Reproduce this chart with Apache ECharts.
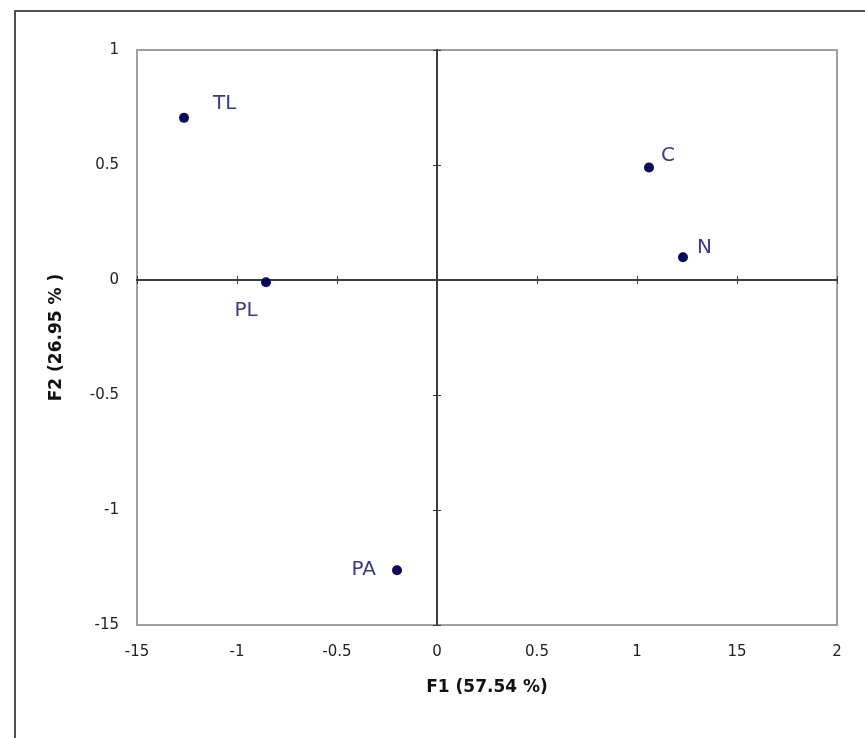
<!DOCTYPE html>
<html lang="en">
<head>
  <meta http-equiv="Content-Type" content="text/html; charset=UTF-8">
  <title>ECharts</title>
  <script type="text/javascript" src="https://cdn.jsdelivr.net/npm/echarts@6/dist/echarts.min.js"></script>
  <style>
    html, body { margin: 0; padding: 0; background: #fff; }
  </style>
</head>
<body>
<div id="main" style="width: 865px;height:738px;"></div>
<script type="text/javascript">
  // points (F1, F2)
  const names = ['TL', 'PL', 'PA', 'C', 'N'];
  const f1 = [-1.265, -0.855, -0.2, 1.06, 1.23];
  const f2 = [0.705, -0.01, -1.262, 0.489, 0.099];
  // label placement for each point
  const labelPos = ['right', 'bottom', 'left', 'right', 'right'];
  // tick labels as printed on the picture
  const xTicks = {'-1.5': '-15', '-1': '-1', '-0.5': '-0.5', '0': '0', '0.5': '0.5', '1': '1', '1.5': '15', '2': '2'};
  const yTicks = {'-1.5': '-15', '-1': '-1', '-0.5': '-0.5', '0': '0', '0.5': '0.5', '1': '1'};

  var myChart = echarts.init(document.getElementById('main'));

  // little nudges so labels sit where they do in the original
  const labelDist = {TL: 24, PL: 13, PA: 16, C: 7, N: 9};
  const labelOff = {TL: [0, -14], PL: [-20, 0], PA: [0, 0], C: [0, -12], N: [0, -9]};

  const data = names.map(function (n, i) {
    return {
      value: [f1[i], f2[i]],
      name: n,
      label: {position: labelPos[i], distance: labelDist[n], offset: labelOff[n]}
    };
  });

  const lineCol = '#3c3c3c';
  const tickFont = {color: '#222', fontFamily: 'DejaVu Sans', fontSize: 15};
  const nameFont = {color: '#111', fontFamily: 'DejaVu Sans', fontSize: 17, fontWeight: 'bold'};

  function zeroAxis(min, max, inside) {
    return {
      type: 'value', min: min, max: max, interval: 0.5,
      axisLine: {show: true, onZero: true, onZeroAxisIndex: 0, lineStyle: {color: lineCol, width: 2}},
      axisTick: {show: true, inside: inside, length: 4, lineStyle: {color: lineCol}},
      axisLabel: {show: false},
      splitLine: {show: false}
    };
  }

  myChart.setOption({
    animation: false,
    graphic: [{
      type: 'rect',
      shape: {x: 15, y: 11, width: 900, height: 800},
      style: {fill: 'none', stroke: '#505050', lineWidth: 2},
      silent: true
    }],
    grid: {
      left: 137, right: 28, top: 50, bottom: 113,
      show: true, borderColor: '#a0a0a0', borderWidth: 2
    },
    xAxis: [{
      type: 'value', min: -1.5, max: 2, interval: 0.5,
      position: 'bottom',
      axisLine: {show: false, onZero: false},
      axisTick: {show: false},
      splitLine: {show: false},
      axisLabel: Object.assign({margin: 20, formatter: function (v) { return xTicks[String(v)]; }}, tickFont),
      name: 'F1 (57.54 %)',
      nameLocation: 'middle', nameGap: 54,
      nameTextStyle: nameFont
    }, zeroAxis(-1.5, 2, false), zeroAxis(-1.5, 2, true)],
    yAxis: [{
      type: 'value', min: -1.5, max: 1, interval: 0.5,
      position: 'left',
      axisLine: {show: false, onZero: false},
      axisTick: {show: false},
      splitLine: {show: false},
      axisLabel: Object.assign({margin: 18, formatter: function (v) { return yTicks[String(v)]; }}, tickFont),
      name: 'F2 (26.95 % )',
      nameLocation: 'middle', nameGap: 72, nameRotate: 90,
      nameTextStyle: nameFont
    }, zeroAxis(-1.5, 1, false), zeroAxis(-1.5, 1, true)],
    series: [{
      type: 'scatter',
      xAxisIndex: 0, yAxisIndex: 0,
      symbolSize: 10,
      itemStyle: {color: '#0a0a5a', opacity: 1},
      label: {
        show: true,
        formatter: '{b}',
        color: '#3a3a8a',
        fontFamily: 'DejaVu Sans',
        fontSize: 20
      },
      data: data
    }]
  });
</script>
</body>
</html>
